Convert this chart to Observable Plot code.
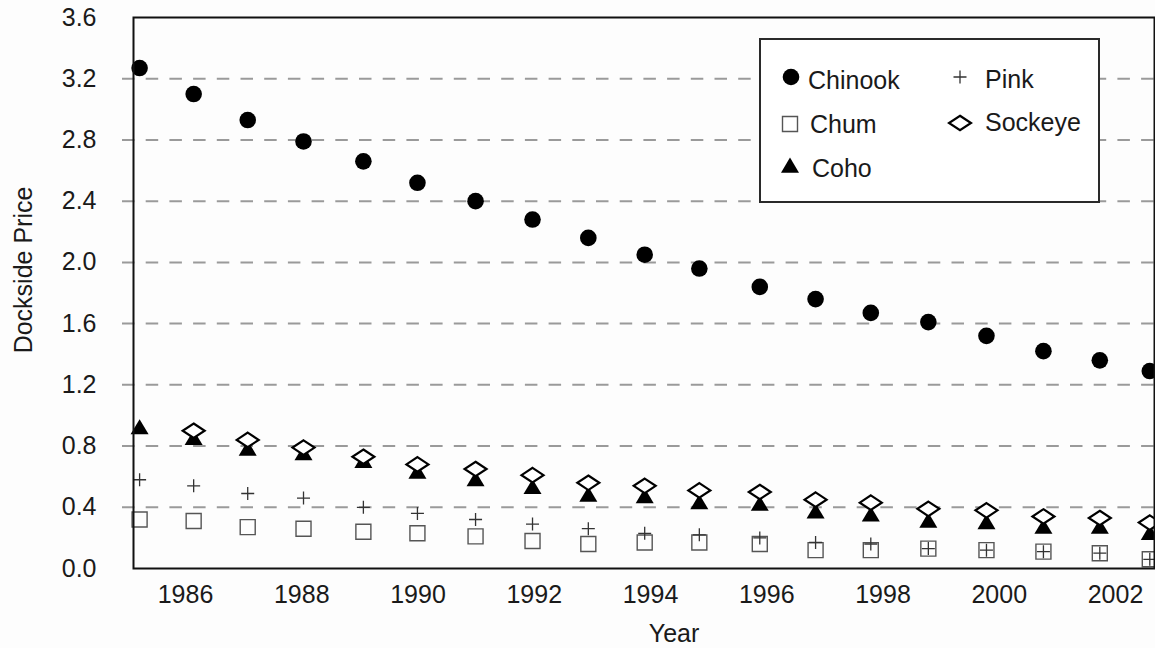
<!DOCTYPE html>
<html>
<head>
<meta charset="utf-8">
<script src="https://cdn.jsdelivr.net/npm/d3@7"></script>
<script src="https://cdn.jsdelivr.net/npm/@observablehq/plot@0.6"></script>
<style>
  html, body { margin: 0; padding: 0; background: #fdfdfd; }
  #wrap { position: relative; width: 1155px; height: 648px; overflow: hidden;
          font-family: "Liberation Sans", Arial, Helvetica, sans-serif; color: #1a1a1a; }
  #wrap svg.plot { position: absolute; left: 0; top: 0; }
  #legend { position: absolute; left: 759px; top: 38px; width: 337px; height: 161px;
            border: 2px solid #2a2a2a; background: #fff; }
  .lg-text { position: absolute; font-size: 25px; line-height: 30px; white-space: nowrap; color: #1a1a1a; }
  .lg-sym { position: absolute; width: 30px; height: 30px; overflow: visible; }
</style>
</head>
<body>
<div id="wrap"></div>
<script>
// ---- data ----
const seriesNames = ["Chinook", "Chum", "Coho", "Pink", "Sockeye"];
// plotted horizontal positions of the 19 yearly points (in axis years)
const yearPos = [1985.21, 1986.14, 1987.07, 1988.03, 1989.06, 1989.99, 1990.99, 1991.97, 1992.93, 1993.90,
                 1994.84, 1995.88, 1996.84, 1997.79, 1998.78, 1999.78, 2000.76, 2001.73, 2002.59];
const chinook = [3.27, 3.10, 2.93, 2.79, 2.66, 2.52, 2.40, 2.28, 2.16, 2.05, 1.96, 1.84, 1.76, 1.67, 1.61, 1.52, 1.42, 1.36, 1.29];
const chum    = [0.32, 0.31, 0.27, 0.26, 0.24, 0.23, 0.21, 0.18, 0.16, 0.17, 0.17, 0.16, 0.12, 0.12, 0.13, 0.12, 0.11, 0.10, 0.06];
const coho    = [0.92, 0.85, 0.78, 0.75, 0.70, 0.63, 0.58, 0.53, 0.48, 0.47, 0.43, 0.42, 0.37, 0.35, 0.31, 0.30, 0.27, 0.27, 0.23];
const pink    = [0.58, 0.54, 0.49, 0.46, 0.40, 0.36, 0.32, 0.29, 0.26, 0.23, 0.22, 0.20, 0.17, 0.16, 0.13, 0.12, 0.11, 0.10, 0.06];
const sockeye = [null, 0.90, 0.84, 0.79, 0.73, 0.68, 0.65, 0.61, 0.56, 0.54, 0.51, 0.50, 0.45, 0.43, 0.39, 0.38, 0.34, 0.33, 0.30];
const xTicks = [1986, 1988, 1990, 1992, 1994, 1996, 1998, 2000, 2002];
const yTicks = [0.0, 0.4, 0.8, 1.2, 1.6, 2.0, 2.4, 2.8, 3.2, 3.6];
const gridTicks = [0.4, 0.8, 1.2, 1.6, 2.0, 2.4, 2.8, 3.2];
const xLabel = "Year";
const yLabel = "Dockside Price";

// ---- symbols ----
const rOf = size => Math.sqrt(size / Math.PI);
const squareSym = { draw(c, s) { const r = rOf(s); c.rect(-r, -r, 2 * r, 2 * r); } };
const triSym = { draw(c, s) { const r = rOf(s); c.moveTo(0, -r); c.lineTo(r * 1.06, r * 0.78); c.lineTo(-r * 1.06, r * 0.78); c.closePath(); } };
const plusSym = { draw(c, s) { const r = rOf(s); c.moveTo(-r, 0); c.lineTo(r, 0); c.moveTo(0, -r); c.lineTo(0, r); } };
const diamondSym = { draw(c, s) { const r = rOf(s); const h = r * 0.66; c.moveTo(0, -h); c.lineTo(r, 0); c.lineTo(0, h); c.lineTo(-r, 0); c.closePath(); } };
const circleSym = { draw(c, s) { const r = rOf(s); c.moveTo(r, 0); c.arc(0, 0, r, 0, 2 * Math.PI); c.closePath(); } };

const styles = {
  Chinook: { symbol: circleSym, r: 8.3, fill: "#000", stroke: "none", strokeWidth: 0 },
  Chum:    { symbol: squareSym, r: 7.5, fill: "none", stroke: "#555", strokeWidth: 1.4 },
  Pink:    { symbol: plusSym, r: 6.5, fill: "none", stroke: "#333", strokeWidth: 1.3 },
  Coho:    { symbol: triSym, r: 8.5, fill: "#000", stroke: "none", strokeWidth: 0 },
  Sockeye: { symbol: diamondSym, r: 11, fill: "#fff", stroke: "#000", strokeWidth: 2.2 }
};
const valuesBy = { Chinook: chinook, Chum: chum, Coho: coho, Pink: pink, Sockeye: sockeye };
const table = seriesNames.flatMap(name =>
  valuesBy[name].map((v, i) => ({ series: name, x: yearPos[i], y: v })).filter(d => d.y != null));

const drawOrder = ["Chinook", "Chum", "Pink", "Coho", "Sockeye"];
const dotMarks = drawOrder.map(name => {
  const st = styles[name];
  return Plot.dot(table.filter(d => d.series === name), {
    x: "x", y: "y", symbol: st.symbol, r: st.r, fill: st.fill, stroke: st.stroke, strokeWidth: st.strokeWidth
  });
});

const chart = Plot.plot({
  width: 1155, height: 648,
  marginLeft: 133, marginRight: 1, marginTop: 17, marginBottom: 80,
  style: { background: "transparent", fontFamily: "'Liberation Sans', Arial, Helvetica, sans-serif", fontSize: "25px", color: "#1a1a1a", overflow: "visible" },
  x: { domain: [1985.105, 2002.671] },
  y: { domain: [0, 3.6] },
  marks: [
    Plot.gridY(gridTicks, { stroke: "#9a9a9a", strokeOpacity: 1, strokeWidth: 2, strokeDasharray: "12.5,11.2", insetLeft: -11 }),
    Plot.axisY(yTicks, { tickSize: 0, tickPadding: 37, tickFormat: d => d.toFixed(1), label: null, fontSize: 25 }),
    Plot.axisX(xTicks, { tickSize: 0, tickPadding: 17, tickFormat: d => String(d), label: null, fontSize: 25 }),
    ...dotMarks,
    Plot.frame({ stroke: "#111", strokeWidth: 2 }),
    Plot.text([xLabel], { text: d => d, frameAnchor: "bottom", textAnchor: "middle", dx: 30, dy: 65, fontSize: 25, lineAnchor: "middle", fill: "#1a1a1a" }),
    Plot.text([yLabel], { text: d => d, frameAnchor: "left", textAnchor: "middle", rotate: -90, dx: -110, dy: -23, fontSize: 25, lineAnchor: "middle", fill: "#1a1a1a" })
  ]
});
const wrap = document.getElementById("wrap");
chart.classList.add("plot");
wrap.appendChild(chart);

// ---- legend (HTML, symbols drawn with the same symbol definitions) ----
const legend = document.createElement("div");
legend.id = "legend";
wrap.appendChild(legend);
const lgBox = { left: 759, top: 38 };
const legendItems = [
  { name: "Chinook", sx: 791, sy: 77, tx: 808, ty: 80 },
  { name: "Chum",    sx: 790, sy: 124, tx: 810, ty: 124 },
  { name: "Coho",    sx: 790, sy: 166, tx: 812, ty: 168 },
  { name: "Pink",    sx: 960, sy: 77, tx: 985, ty: 79 },
  { name: "Sockeye", sx: 960, sy: 123, tx: 985, ty: 122 }
];
const ns = "http://www.w3.org/2000/svg";
for (const it of legendItems) {
  const st = styles[it.name];
  const p = d3.path();
  st.symbol.draw(p, Math.PI * st.r * st.r);
  const svg = document.createElementNS(ns, "svg");
  svg.setAttribute("class", "lg-sym");
  svg.setAttribute("viewBox", "-15 -15 30 30");
  svg.style.left = (it.sx - lgBox.left - 2 - 15) + "px";
  svg.style.top = (it.sy - lgBox.top - 2 - 15) + "px";
  const path = document.createElementNS(ns, "path");
  path.setAttribute("d", p.toString());
  path.setAttribute("fill", st.fill);
  path.setAttribute("stroke", st.stroke);
  path.setAttribute("stroke-width", st.strokeWidth);
  svg.appendChild(path);
  legend.appendChild(svg);
  const t = document.createElement("div");
  t.className = "lg-text";
  t.textContent = it.name;
  t.style.left = (it.tx - lgBox.left - 2) + "px";
  t.style.top = (it.ty - lgBox.top - 2 - 15) + "px";
  legend.appendChild(t);
}
</script>
</body>
</html>
